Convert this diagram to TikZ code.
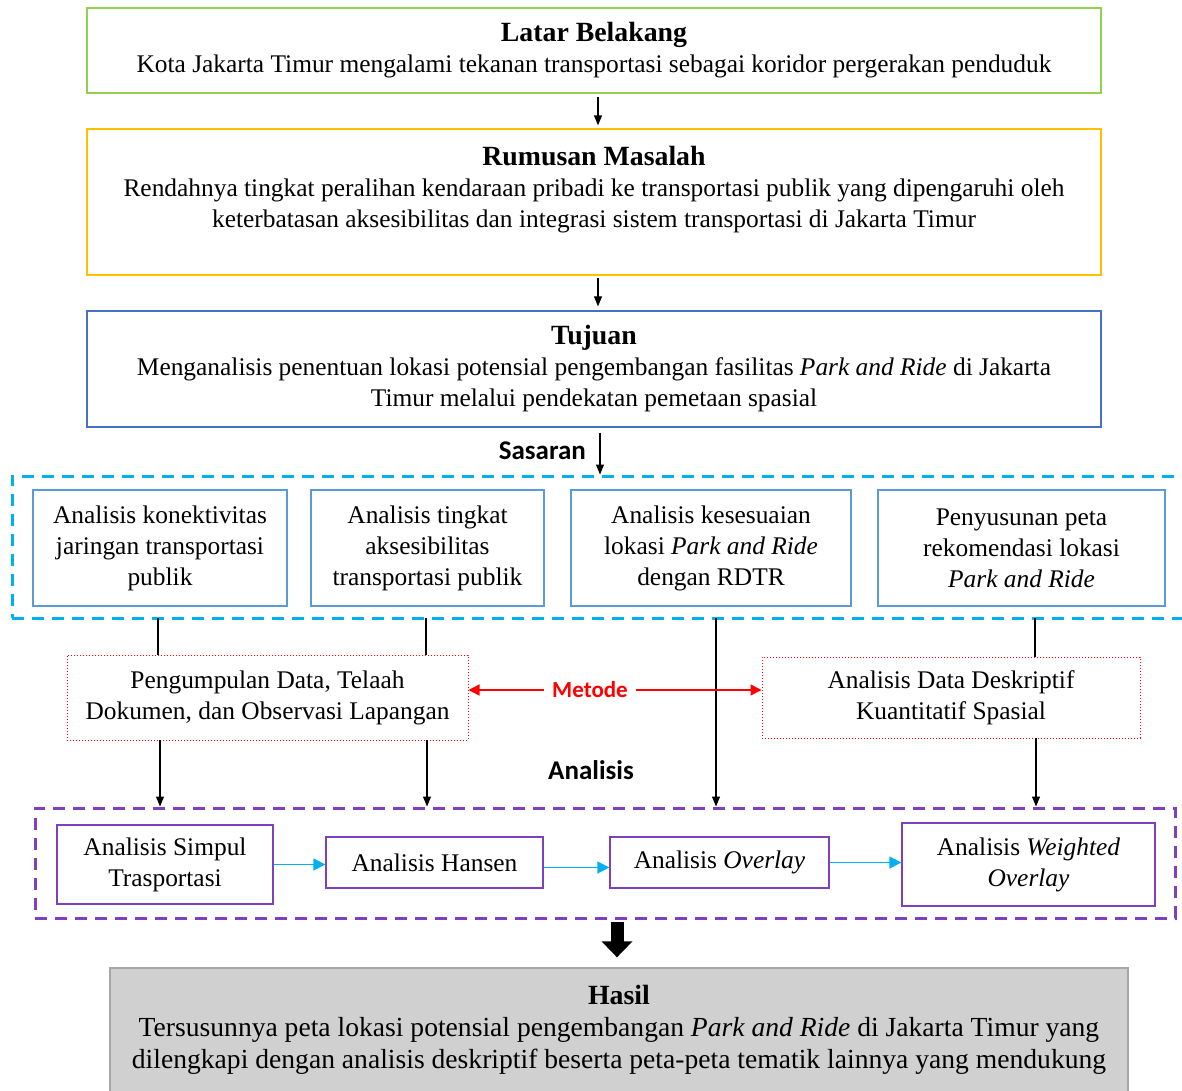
\documentclass[tikz,border=0pt]{standalone}
\usepackage{fontspec}
\setmainfont{Liberation Serif}
\newfontfamily\serfont{Liberation Serif}
\newfontfamily\labfont{Carlito}
\usetikzlibrary{arrows.meta,calc}
\definecolor{cgreen}{HTML}{92D050}
\definecolor{cyellow}{HTML}{FFC000}
\definecolor{cblue}{HTML}{4472C4}
\definecolor{csky}{HTML}{5B9BD5}
\definecolor{ccyan}{HTML}{00B0F0}
\definecolor{cred}{HTML}{FF0000}
\definecolor{cpurple}{HTML}{7F3FBF}
\definecolor{cgrayfill}{HTML}{D0D0D0}
\definecolor{cgrayline}{HTML}{A6A6A6}
\newcommand\mybody{\serfont\fontsize{25.4}{31}\selectfont}
\newcommand\myhasil{\serfont\fontsize{27.6}{32}\selectfont}
\newcommand\myhead{\serfont\fontsize{27.8}{33}\selectfont\bfseries}
\newcommand\mylab{\labfont\fontsize{27}{30}\selectfont\bfseries}
\newcommand\mylabs{\labfont\fontsize{23}{27}\selectfont\bfseries}
\tikzset{
  box/.style={draw, line width=1.3pt, inner sep=0pt, align=center, font=\mybody},
  sasbox/.style={box, draw=csky, line width=1.1pt},
  metbox/.style={box, draw=cred, line width=1pt, dotted},
  anbox/.style={box, draw=cpurple, line width=1.3pt},
  frame/.style={draw, line width=3pt, dash pattern=on 12pt off 8pt, inner sep=0pt},
  arr/.style={draw=black, line width=1.1pt, -{Triangle[length=10pt,width=8pt]}},
  ln/.style={draw=black, line width=1.1pt},
  carr/.style={draw=ccyan, line width=1.6pt, -{Triangle[length=12pt,width=12pt]}},
  rarr/.style={draw=cred, line width=1.4pt, -{Triangle[length=11pt,width=11pt]}},
  lab/.style={font=\mylab, inner sep=0pt},
  labs/.style={font=\mylabs, inner sep=0pt}
}
\begin{document}
\begin{tikzpicture}[x=1pt,y=-1pt]
\useasboundingbox[fill=white] (0,0) rectangle (1182,1091);

\node[box, draw=cgreen, minimum width=1014pt, minimum height=85pt] (lb) at (594,50.5)
  {{\myhead Latar Belakang}\\Kota Jakarta Timur mengalami tekanan transportasi sebagai koridor pergerakan penduduk};
\node[box, draw=cyellow, minimum width=1014pt, minimum height=146pt] (rm) at (594,202)
  {{\myhead Rumusan Masalah}\\Rendahnya tingkat peralihan kendaraan pribadi ke transportasi publik yang dipengaruhi oleh\\keterbatasan aksesibilitas dan integrasi sistem transportasi di Jakarta Timur\\[0pt]~};
\node[box, draw=cblue, minimum width=1014pt, minimum height=116pt] (tj) at (594,369)
  {{\myhead Tujuan}\\Menganalisis penentuan lokasi potensial pengembangan fasilitas \textit{Park and Ride} di Jakarta\\Timur melalui pendekatan pemetaan spasial};

\node[frame, draw=ccyan, minimum width=1180pt, minimum height=142pt] (sas) at (602,547) {};
\node[sasbox, minimum width=254pt, minimum height=116pt] (s1) at (160,548)
  {Analisis konektivitas\\jaringan transportasi\\publik};
\node[sasbox, minimum width=233pt, minimum height=116pt] (s2) at (427.5,548)
  {Analisis tingkat\\aksesibilitas\\transportasi publik};
\node[sasbox, minimum width=280pt, minimum height=116pt] (s3) at (711,548)
  {Analisis kesesuaian\\lokasi \textit{Park and Ride}\\dengan RDTR};
\node[sasbox, minimum width=287pt, minimum height=116pt] (s4) at (1021.5,548)
  {Penyusunan peta\\rekomendasi lokasi\\\textit{Park and Ride}};

\node[metbox, minimum width=401pt, minimum height=85pt] (m1) at (267.5,697.5)
  {Pengumpulan Data, Telaah\\Dokumen, dan Observasi Lapangan};
\node[metbox, minimum width=378pt, minimum height=81pt] (m2) at (951,697.5)
  {Analisis Data Deskriptif\\Kuantitatif Spasial};
\node[labs, text=cred] (met) at (590,690) {Metode};

\node[lab, anchor=east] (lsas) at (586,451) {Sasaran};
\node[lab] (lana) at (591,770) {Analisis};

\node[frame, draw=cpurple, minimum width=1140pt, minimum height=110pt] (anl) at (605,863) {};
\node[anbox, minimum width=216pt, minimum height=79pt] (a1) at (165,864.5)
  {Analisis Simpul\\Trasportasi};
\node[anbox, minimum width=217pt, minimum height=51pt] (a2) at (434.5,862.5)
  {Analisis Hansen};
\node[anbox, minimum width=219pt, minimum height=51pt] (a3) at (719.5,862.5)
  {Analisis \textit{Overlay}};
\node[anbox, minimum width=253pt, minimum height=83pt] (a4) at (1028.5,864.5)
  {Analisis \textit{Weighted}\\\textit{Overlay}};

\node[box, font=\myhasil, draw=cgrayline, fill=cgrayfill, line width=1.3pt, minimum width=1018pt, minimum height=124pt] (hs) at (619,1030)
  {{\myhead Hasil}\\Tersusunnya peta lokasi potensial pengembangan \textit{Park and Ride} di Jakarta Timur yang\\dilengkapi dengan analisis deskriptif beserta peta-peta tematik lainnya yang mendukung};

% top arrows
\draw[arr, shorten <=3pt, shorten >=3pt] ([xshift=4pt]lb.south) -- ([xshift=4pt]rm.north);
\draw[arr, shorten <=2pt, shorten >=4pt] ([xshift=4pt]rm.south) -- ([xshift=4pt]tj.north);
\draw[arr, shorten <=5pt] ([xshift=6pt]tj.south) -- ([xshift=6pt]tj.south |- sas.north);

% sasaran to metode
\coordinate (c1) at (158,618);
\coordinate (c2) at (426,618);
\coordinate (c3) at (716,618);
\coordinate (c4) at (1035,618);
\draw[ln] (c1) -- (c1 |- m1.north);
\draw[ln] (c2) -- (c2 |- m1.north);
\draw[arr] (c3) -- (c3 |- anl.north);
\draw[ln] (c4) -- (c4 |- m2.north);

% metode to analisis
\coordinate (d1) at (160,740);
\coordinate (d2) at (427,740);
\coordinate (d4) at (1036,738);
\draw[arr] (d1) -- (d1 |- anl.north);
\draw[arr] (d2) -- (d2 |- anl.north);
\draw[arr] (d4) -- (d4 |- anl.north);

% metode arrows
\draw[rarr] ([xshift=-8pt]met.west) -- (m1.east |- met.west);
\draw[rarr] ([xshift=8pt]met.east) -- (m2.west |- met.east);

% analysis chain
\draw[carr] (a1.east) -- (a2.west |- a1.east);
\draw[carr] ([yshift=-5pt]a2.east) -- ([yshift=-5pt]a3.west);
\draw[carr] (a3.east) -- (a4.west |- a3.east);

% big arrow
\draw[draw=black, line width=13pt, -{Triangle[length=16pt,width=30pt]}]
  ([xshift=-2pt,yshift=-2pt]hs.north |- anl.south) -- ([xshift=-2pt,yshift=10pt]hs.north);
\end{tikzpicture}
\end{document}
